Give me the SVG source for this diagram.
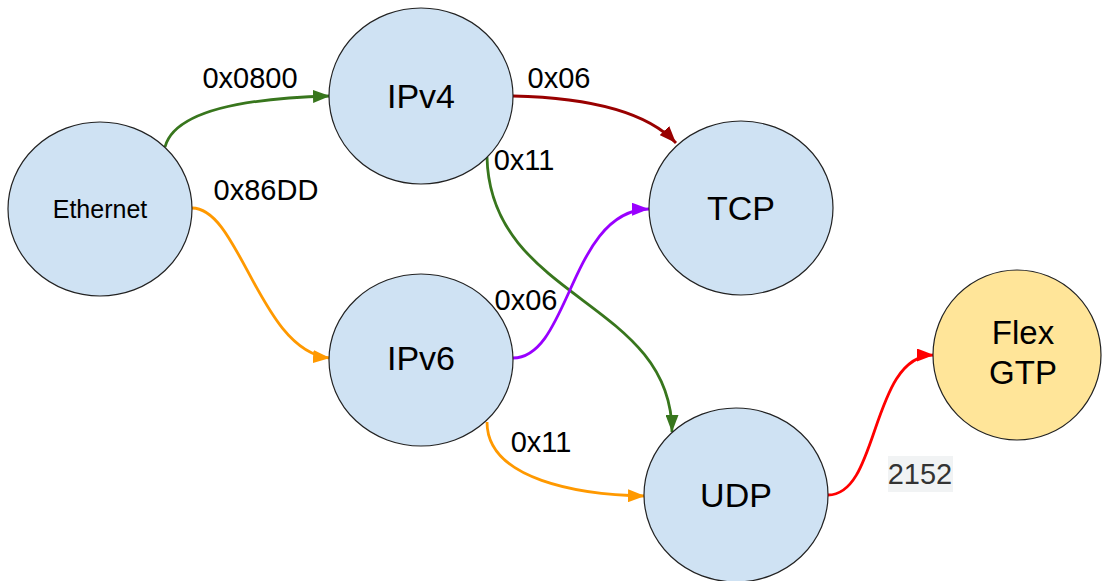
<svg xmlns="http://www.w3.org/2000/svg" width="1105" height="581" viewBox="0 0 1105 581">
<style>
.node{fill:#cfe2f3;stroke:#222;stroke-width:1.2}
.flex{fill:#ffe599;stroke:#222;stroke-width:1.2}
.nt{font-family:"Liberation Sans",Arial,sans-serif;fill:#000;text-anchor:middle}
.lbl{font-family:"Liberation Sans",Arial,sans-serif;font-size:29px;fill:#000;text-anchor:middle}
.edge{fill:none;stroke-width:2.8}
</style>
<defs>
<marker id="ag" viewBox="0 0 17 13" refX="17" refY="6.5" markerWidth="17" markerHeight="13" markerUnits="userSpaceOnUse" orient="auto"><path d="M0,0L17,6.5L0,13z" fill="#38761d"/></marker>
<marker id="ar" viewBox="0 0 17 13" refX="17" refY="6.5" markerWidth="17" markerHeight="13" markerUnits="userSpaceOnUse" orient="auto"><path d="M0,0L17,6.5L0,13z" fill="#990000"/></marker>
<marker id="ao" viewBox="0 0 17 13" refX="17" refY="6.5" markerWidth="17" markerHeight="13" markerUnits="userSpaceOnUse" orient="auto"><path d="M0,0L17,6.5L0,13z" fill="#ff9900"/></marker>
<marker id="ap" viewBox="0 0 17 13" refX="17" refY="6.5" markerWidth="17" markerHeight="13" markerUnits="userSpaceOnUse" orient="auto"><path d="M0,0L17,6.5L0,13z" fill="#9900ff"/></marker>
<marker id="ared" viewBox="0 0 17 13" refX="17" refY="6.5" markerWidth="17" markerHeight="13" markerUnits="userSpaceOnUse" orient="auto"><path d="M0,0L17,6.5L0,13z" fill="#ff0000"/></marker>
</defs>
<rect width="1105" height="581" fill="#fff"/>
<g id="connectors">
<path class="edge" stroke="#38761d" marker-end="url(#ag)" d="M165,147 C175,110 250,98 330,96"/>
<path class="edge" stroke="#990000" marker-end="url(#ar)" d="M513,96 C600,98 650,115 676,143"/>
<path class="edge" stroke="#38761d" marker-end="url(#ag)" d="M487,157 C490,300 672,300 672,432"/>
<path class="edge" stroke="#ff9900" marker-end="url(#ao)" d="M192,208 C240,208 260,352 330,358"/>
<path class="edge" stroke="#9900ff" marker-end="url(#ap)" d="M513,358 C570,358 570,210 649,209"/>
<path class="edge" stroke="#ff9900" marker-end="url(#ao)" d="M487,422 C487,480 580,495 645,496"/>
<path class="edge" stroke="#ff0000" marker-end="url(#ared)" d="M828,495 C880,495 870,355 934,355"/>
</g>
<g id="labels">
<text class="lbl" x="250" y="88">0x0800</text>
<text class="lbl" x="559" y="88">0x06</text>
<text class="lbl" x="524" y="170">0x11</text>
<text class="lbl" x="266" y="200">0x86DD</text>
<text class="lbl" x="526" y="310">0x06</text>
<text class="lbl" x="541" y="452">0x11</text>
<rect x="888" y="456" width="65" height="36" fill="#f1f3f4"/>
<text class="lbl" x="920" y="484" style="fill:#333">2152</text>
</g>
<g id="ethernet"><ellipse class="node" cx="100" cy="209" rx="92" ry="87"/><text class="nt" x="100" y="218" font-size="25">Ethernet</text></g>
<g id="ipv4"><ellipse class="node" cx="421" cy="96" rx="92" ry="88"/><text class="nt" x="421" y="108" font-size="34">IPv4</text></g>
<g id="tcp"><ellipse class="node" cx="741" cy="208" rx="92" ry="87"/><text class="nt" x="741" y="220" font-size="34">TCP</text></g>
<g id="ipv6"><ellipse class="node" cx="421" cy="360" rx="92" ry="86"/><text class="nt" x="421" y="370" font-size="34">IPv6</text></g>
<g id="udp"><ellipse class="node" cx="736" cy="495" rx="92" ry="87"/><text class="nt" x="736" y="507" font-size="34">UDP</text></g>
<g id="flexgtp"><ellipse class="flex" cx="1017" cy="355" rx="84" ry="85"/><text class="nt" x="1023" y="344" font-size="33">Flex</text><text class="nt" x="1023" y="384" font-size="33">GTP</text></g>
</svg>
